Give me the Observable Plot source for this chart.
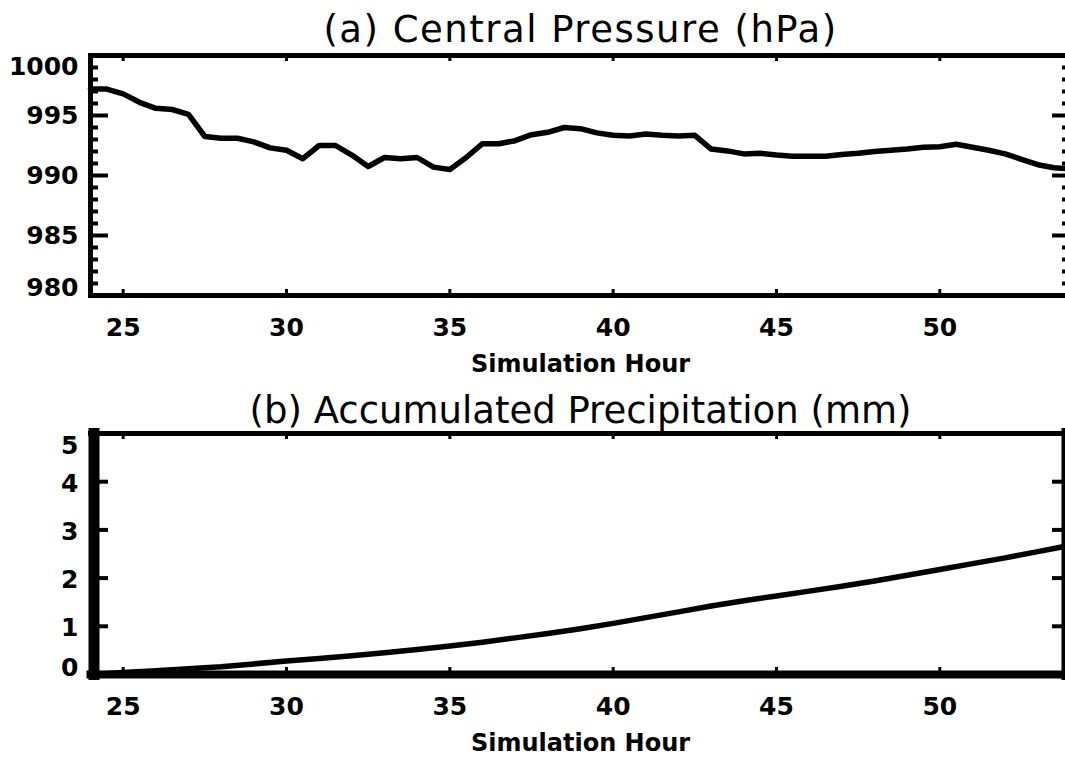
<!DOCTYPE html>
<html>
<head>
<meta charset="utf-8">
<script src="https://cdn.jsdelivr.net/npm/d3@7"></script>
<script src="https://cdn.jsdelivr.net/npm/@observablehq/plot@0.6"></script>
<style>
  html, body { margin: 0; padding: 0; background: white; overflow: hidden; }
  svg { display: block; }
</style>
</head>
<body>
<div id="chart"></div>
<script>
// ---- Data ----
const pressureHours = [
  24.0, 24.5, 25.0, 25.5, 26.0, 26.5, 27.0, 27.5, 28.0, 28.5,
  29.0, 29.5, 30.0, 30.5, 31.0, 31.5, 32.0, 32.5, 33.0, 33.5,
  34.0, 34.5, 35.0, 35.5, 36.0, 36.5, 37.0, 37.5, 38.0, 38.5,
  39.0, 39.5, 40.0, 40.5, 41.0, 41.5, 42.0, 42.5, 43.0, 43.5,
  44.0, 44.5, 45.0, 45.5, 46.0, 46.5, 47.0, 47.5, 48.0, 48.5,
  49.0, 49.5, 50.0, 50.5, 51.0, 51.5, 52.0, 52.5, 53.0, 53.5, 54.0
];
const pressureValues = [
  997.2, 997.2, 996.8, 996.1, 995.6, 995.5, 995.1, 993.25, 993.1, 993.1,
  992.8, 992.3, 992.1, 991.4, 992.5, 992.5, 991.7, 990.75, 991.5, 991.4,
  991.5, 990.7, 990.5, 991.5, 992.65, 992.65, 992.9, 993.4, 993.6, 994.0,
  993.9, 993.55, 993.35, 993.3, 993.45, 993.35, 993.3, 993.35, 992.2, 992.05,
  991.8, 991.85, 991.7, 991.6, 991.6, 991.6, 991.75, 991.85, 992.0, 992.1,
  992.2, 992.35, 992.4, 992.6, 992.35, 992.1, 991.8, 991.35, 990.9, 990.65, 990.55
];
const precipHours = [
  24, 25, 26, 27, 28, 29, 30, 31, 32, 33, 34, 35, 36, 37, 38, 39,
  40, 41, 42, 43, 44, 45, 46, 47, 48, 49, 50, 51, 52, 53, 54
];
const precipValues = [
  0.0, 0.04, 0.08, 0.12, 0.16, 0.22, 0.28, 0.33, 0.39, 0.45, 0.52, 0.59, 0.67, 0.76, 0.85, 0.95,
  1.06, 1.18, 1.30, 1.42, 1.53, 1.63, 1.73, 1.83, 1.94, 2.06, 2.18, 2.30, 2.42, 2.55, 2.68
];
const hourTicks = [25, 30, 35, 40, 45, 50];
const pressureMajorTicks = [980, 985, 990, 995, 1000];
const pressureMinorTicks = [981, 982, 983, 984, 986, 987, 988, 989, 991, 992, 993, 994, 996, 997, 998, 999];
const precipTicks = [0, 1, 2, 3, 4, 5];
const titleA = "(a) Central Pressure (hPa)";
const titleB = "(b) Accumulated Precipitation (mm)";
const xLabel = "Simulation Hour";

const pressureTable = pressureHours.map((h, i) => ({hour: h, value: pressureValues[i]}));
const precipTable = precipHours.map((h, i) => ({hour: h, value: precipValues[i]}));

const FONT = "DejaVu Sans";
const tickFont = {fontSize: 25, fontWeight: "bold", tickFormat: d => String(d)};

// layout
const W = 1065, ML = 90, MR = -5;
const innerW = W - ML - MR;

// inward tick marks drawn as short rules anchored to the frame edges
const yTicks = (values, side, len, sw) => Plot.ruleY(values, {
  y: d => d, stroke: "black", strokeWidth: sw,
  ...(side === "left" ? {insetRight: innerW - len} : {insetLeft: innerW - len})
});
const xTicks = (values, side, len, sw, innerH) => Plot.ruleX(values, {
  x: d => d, stroke: "black", strokeWidth: sw,
  ...(side === "bottom" ? {insetTop: innerH - len} : {insetBottom: innerH - len})
});

// ---- Panel (a) ----
const hA = 380, mtA = 55, mbA = 85, innerHA = hA - mtA - mbA;
const panelA = Plot.plot({
  width: W, height: hA,
  marginLeft: ML, marginRight: MR, marginTop: mtA, marginBottom: mbA,
  x: {domain: [24, 54], label: null},
  y: {domain: [980, 1000], label: null},
  style: {fontFamily: FONT, color: "black", background: "white"},
  marks: [
    Plot.line(pressureTable, {x: "hour", y: "value", stroke: "black", strokeWidth: 5.5, strokeLinejoin: "round"}),
    Plot.frame({stroke: "black", strokeWidth: 5}),
    yTicks(pressureMinorTicks, "left", 8, 4),
    yTicks(pressureMajorTicks, "left", 18, 4),
    yTicks(pressureMinorTicks, "right", 8, 4),
    yTicks(pressureMajorTicks, "right", 18, 4),
    xTicks(hourTicks, "bottom", 6, 3, innerHA),
    xTicks(hourTicks, "top", 6, 3, innerHA),
    // y tick labels
    Plot.axisY(pressureMajorTicks.slice(1, -1), {anchor: "left", tickSize: 0, tickPadding: 12, ...tickFont, label: null}),
    Plot.axisY(pressureMajorTicks.slice(-1), {anchor: "left", tickSize: 0, tickPadding: 12, dy: 11, ...tickFont, label: null}),
    Plot.axisY(pressureMajorTicks.slice(0, 1), {anchor: "left", tickSize: 0, tickPadding: 12, dy: -8, ...tickFont, label: null}),
    // x tick labels
    Plot.axisX(hourTicks, {anchor: "bottom", tickSize: 0, tickPadding: 23, ...tickFont, label: null}),
    // axis label and title
    Plot.text([xLabel], {frameAnchor: "bottom", lineAnchor: "middle", dy: 69, fontSize: 24, fontWeight: "bold", fill: "black"}),
    Plot.text([titleA], {frameAnchor: "top", lineAnchor: "middle", dy: -25, fontSize: 37, fill: "black"})
  ]
});

// ---- Panel (b) ----
const hB = 381, mtB = 53, mbB = 87, innerHB = hB - mtB - mbB;
const panelB = Plot.plot({
  width: W, height: hB,
  marginLeft: ML, marginRight: MR, marginTop: mtB, marginBottom: mbB,
  x: {domain: [24, 54], label: null},
  y: {domain: [0, 5], label: null},
  style: {fontFamily: FONT, color: "black", background: "white"},
  marks: [
    Plot.line(precipTable, {x: "hour", y: "value", stroke: "black", strokeWidth: 5.5, strokeLinejoin: "round"}),
    Plot.frame({anchor: "top", stroke: "black", strokeWidth: 5}),
    Plot.frame({anchor: "bottom", stroke: "black", strokeWidth: 8}),
    Plot.frame({anchor: "left", stroke: "black", strokeWidth: 11, dx: 3.5}),
    Plot.frame({anchor: "right", stroke: "black", strokeWidth: 11, dx: -3.5}),
    yTicks(precipTicks, "left", 18, 4),
    yTicks(precipTicks, "right", 18, 4),
    xTicks(hourTicks, "bottom", 7, 3, innerHB),
    xTicks(hourTicks, "top", 6, 3, innerHB),
    Plot.axisY(precipTicks.slice(1, -1), {anchor: "left", tickSize: 0, tickPadding: 12, dy: 2, ...tickFont, label: null}),
    Plot.axisY(precipTicks.slice(-1), {anchor: "left", tickSize: 0, tickPadding: 12, dy: 12, ...tickFont, label: null}),
    Plot.axisY(precipTicks.slice(0, 1), {anchor: "left", tickSize: 0, tickPadding: 12, dy: -7, ...tickFont, label: null}),
    Plot.axisX(hourTicks, {anchor: "bottom", tickSize: 0, tickPadding: 23, ...tickFont, label: null}),
    Plot.text([xLabel], {frameAnchor: "bottom", lineAnchor: "middle", dy: 69, fontSize: 24, fontWeight: "bold", fill: "black"}),
    Plot.text([titleB], {frameAnchor: "top", lineAnchor: "middle", dy: -22, fontSize: 37, fill: "black"})
  ]
});

// widen title (a) slightly to match the reference letter spacing
d3.select(panelA).selectAll("text").filter(function() { return this.textContent === titleA; })
  .attr("letter-spacing", "1.5px");

const root = document.getElementById("chart");
root.appendChild(panelA);
root.appendChild(panelB);
</script>
</body>
</html>
